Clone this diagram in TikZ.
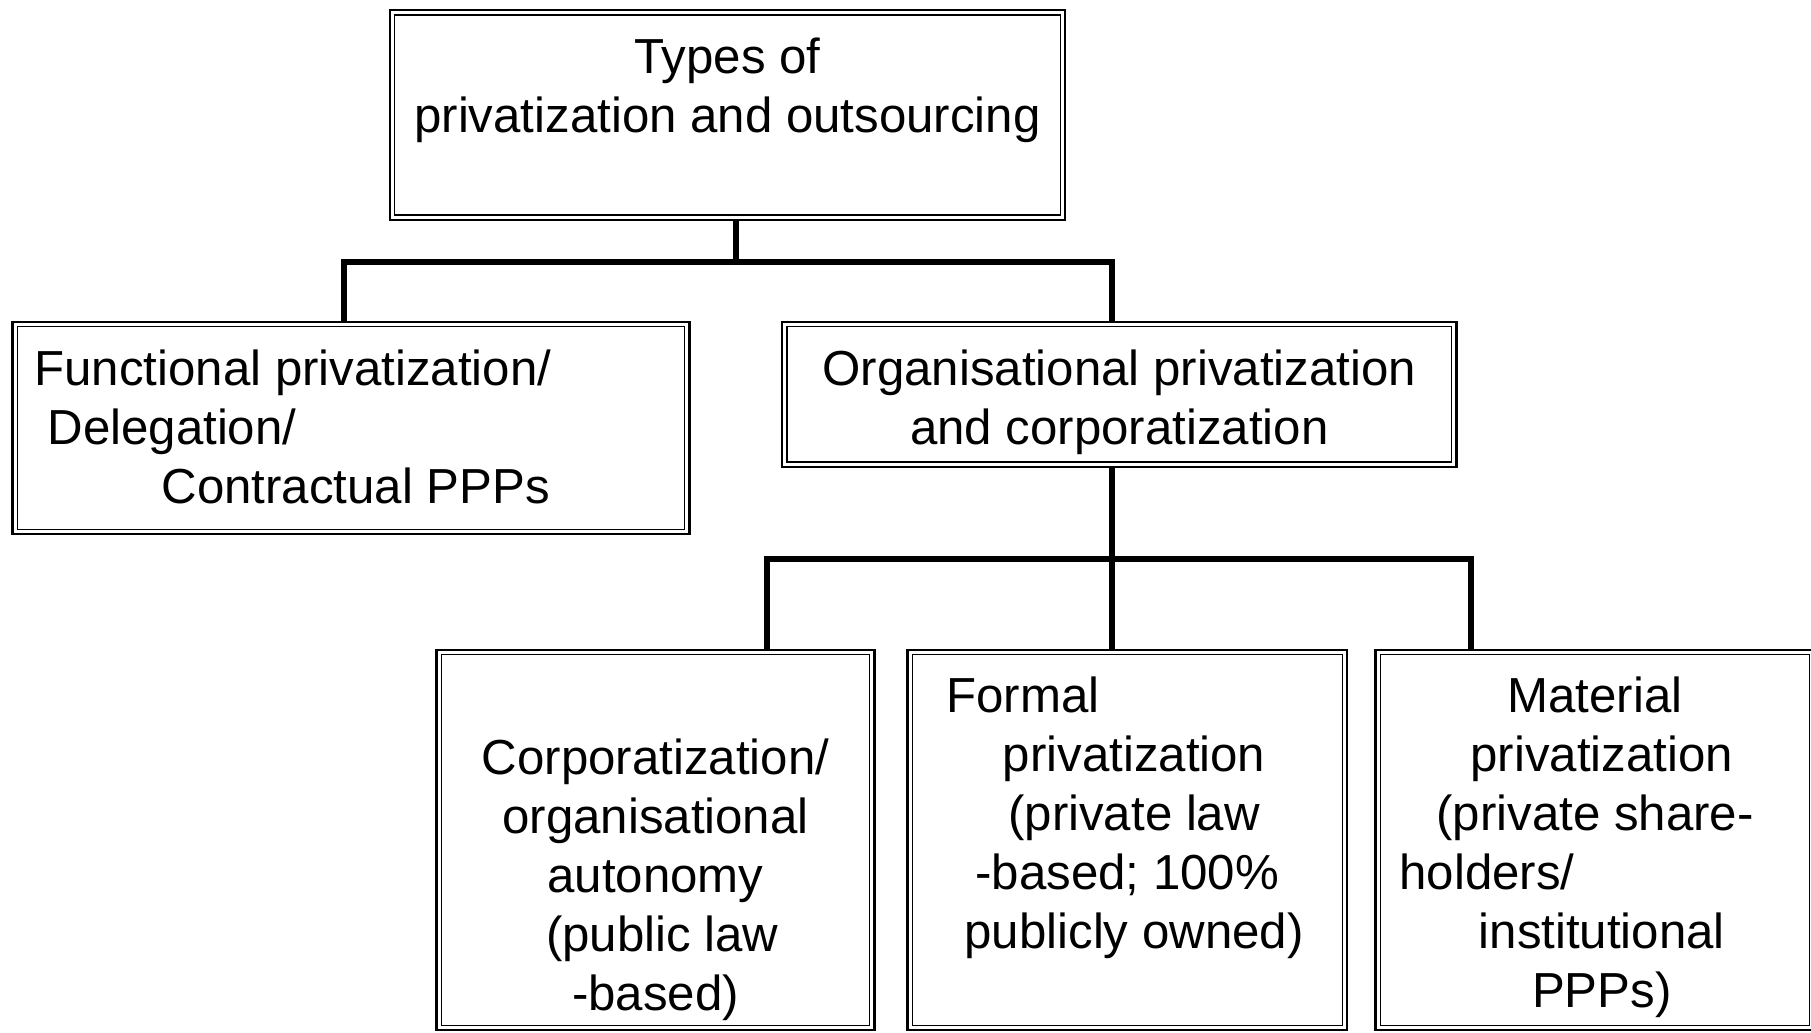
\documentclass[tikz,border=0pt]{standalone}
\usepackage{fontspec}
\setmainfont{Liberation Sans}
\usepackage{tikz}

\newcommand{\boxtext}[4]{\parbox[t][#2][t]{#1}{\centering\vspace*{#3}\strut #4}}
\newcommand{\lead}{\hspace*{0.136cm}}

\begin{document}
\begin{tikzpicture}[
    every node/.style={font=\fontsize{14}{16.8}\selectfont},
    typebox/.style={draw, line width=0.65pt, inner sep=0pt},
    innerline/.style={line width=0.35pt},
    link/.style={line width=1.7pt}]
    \useasboundingbox (0,0) rectangle (18.11,-10.32);
    \node [typebox] (types) at (7.275,-1.15) {\boxtext{6.75cm}{2.095cm}{0.22cm}{Types of\\privatization and outsourcing}};
    \node [typebox] (func) at (3.51,-4.28) {\boxtext{6.77cm}{2.12cm}{0.22cm}{\raggedright\hspace*{0.22cm}Functional privatization/\\\hspace*{0.35cm}Delegation/\\\hspace*{1.49cm}Contractual PPPs}};
    \node [typebox] (org) at (11.193,-3.944) {\boxtext{6.745cm}{1.45cm}{0.22cm}{Organisational privatization\\and corporatization}};
    \node [typebox] (corp) at (6.555,-8.40) {\boxtext{4.38cm}{3.805cm}{0.83cm}{Corporatization/\\organisational\\autonomy\\\lead(public law\\-based)}};
    \node [typebox] (formal) at (11.273,-8.40) {\boxtext{4.395cm}{3.805cm}{0.21cm}{\makebox[3.615cm][l]{Formal}\\\lead privatization\\\lead(private law\\-based; 100\%\\\lead publicly owned)}};
    \node [typebox] (mat) at (15.95,-8.40) {\boxtext{4.39cm}{3.805cm}{0.21cm}{Material\\\lead privatization\\(private share-\\\makebox[3.91cm][l]{holders/}\\\lead institutional\\\lead PPPs)}};
    \foreach \n in {types,func,org,corp,formal,mat}
        \draw [innerline] ([shift={(1.7pt,-1.7pt)}]\n.north west) rectangle ([shift={(-1.7pt,1.7pt)}]\n.south east);
    \coordinate (busT) at (7.36,-2.62);
    \coordinate (dropF) at (3.44,-2.62);
    \coordinate (dropO) at (11.12,-2.62);
    \coordinate (busO) at (11.12,-5.59);
    \coordinate (drop1) at (7.67,-5.59);
    \coordinate (drop3) at (14.71,-5.59);
    \draw [link] (types.south -| busT) -- (busT);
    \draw [link] (dropF |- func.north) -- (dropF) -- (dropO) -- (dropO |- org.north);
    \draw [link] (org.south -| busO) -- (busO);
    \draw [link] (drop1 |- corp.north) -- (drop1) -- (drop3) -- (drop3 |- mat.north);
    \draw [link] (busO) -- (busO |- formal.north);
\end{tikzpicture}
\end{document}
